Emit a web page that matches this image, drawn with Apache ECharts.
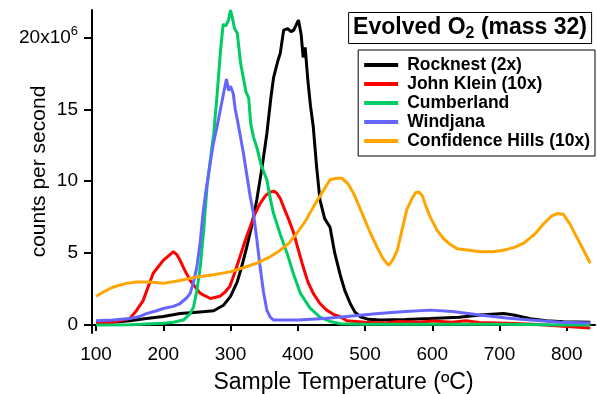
<!DOCTYPE html>
<html>
<head>
<meta charset="utf-8">
<script src="https://cdn.jsdelivr.net/npm/echarts@6/dist/echarts.min.js"></script>
<style>
  html, body { margin: 0; padding: 0; background: #fff; }
  #chart { width: 597px; height: 394px; }
</style>
</head>
<body>
<div id="chart"></div>
<script>
// temperature (ºC), counts per second (x10^6)
const rocknest = [
  [100, 0.15], [125, 0.2], [150, 0.3], [175, 0.45], [200, 0.6], [225, 0.8], [250, 0.9], [275, 1.0],
  [290, 1.4], [300, 2.0], [310, 3.0], [318, 4.3], [324, 5.4], [332, 7.0], [339, 8.7], [347, 11.0],
  [354, 13.3], [360, 15.8], [364, 17.2], [370, 18.3], [374, 18.9], [379, 20.5], [385, 20.6], [390, 20.4],
  [394, 20.5], [398, 20.9], [401, 21.2], [405, 20.2], [408, 18.6], [411, 19.3], [415, 17.0], [419, 15.2],
  [423, 13.8], [428, 11.0], [433, 8.7], [440, 7.4], [448, 6.8], [455, 5.0], [463, 3.5], [470, 2.4],
  [478, 1.5], [485, 0.9], [493, 0.58], [505, 0.4], [522, 0.35], [560, 0.38], [597, 0.45], [640, 0.55],
  [671, 0.7], [706, 0.8], [721, 0.7], [746, 0.45], [770, 0.3], [795, 0.23], [835, 0.2]
];
const johnKlein = [
  [100, 0.1], [125, 0.2], [150, 0.45], [160, 1.0], [170, 1.7], [185, 3.6], [200, 4.5], [210, 4.9],
  [215, 5.1], [220, 4.9], [225, 4.5], [232, 3.8], [240, 3.1], [255, 2.2], [270, 1.85], [284, 2.0],
  [292, 2.3], [299, 2.7], [306, 3.6], [314, 4.75], [322, 5.9], [329, 6.8], [336, 7.7], [344, 8.45],
  [352, 9.0], [359, 9.25], [365, 9.3], [369, 9.15], [374, 8.8], [379, 8.2], [386, 7.4], [394, 6.4],
  [401, 5.2], [408, 4.05], [415, 3.0], [423, 2.2], [433, 1.5], [443, 1.04], [453, 0.75], [463, 0.58],
  [473, 0.3], [500, 0.2], [530, 0.15], [550, 0.25], [580, 0.2], [600, 0.28], [630, 0.2], [650, 0.3],
  [670, 0.18], [700, 0.15], [750, 0.05], [800, -0.1], [835, -0.2]
];
const cumberland = [
  [100, 0.0], [150, 0.02], [200, 0.13], [215, 0.2], [230, 0.35], [240, 0.8], [245, 1.27], [250, 2.4],
  [255, 4.05], [260, 6.5], [265, 9.6], [270, 11.5], [275, 13.3], [280, 16.0], [285, 19.0], [289, 20.9],
  [293, 20.8], [297, 21.2], [300, 21.9], [303, 21.3], [306, 20.6], [310, 20.3], [315, 18.2], [319, 17.2],
  [323, 16.2], [327, 15.8], [330, 14.0], [334, 13.1], [340, 12.2], [345, 11.2], [354, 10.1], [360, 8.6],
  [364, 7.75], [374, 6.3], [384, 5.0], [394, 3.5], [404, 2.2], [418, 1.2], [433, 0.56], [448, 0.25],
  [463, 0.1], [500, 0.05], [600, 0.05], [700, 0.05], [800, 0.0], [835, 0.0]
];
const windjana = [
  [100, 0.3], [125, 0.35], [150, 0.45], [165, 0.6], [175, 0.8], [190, 1.0], [200, 1.15], [215, 1.3],
  [225, 1.5], [235, 1.9], [240, 2.2], [245, 3.0], [250, 4.05], [255, 5.8], [259, 7.75], [264, 9.5],
  [269, 11.0], [274, 12.5], [280, 13.8], [285, 15.0], [290, 16.2], [294, 17.1], [297, 16.3], [300, 16.6],
  [304, 16.1], [307, 15.0], [310, 14.3], [314, 13.3], [319, 12.0], [324, 10.5], [329, 9.0], [334, 7.8],
  [339, 6.0], [344, 4.05], [349, 2.3], [354, 1.04], [359, 0.55], [364, 0.35], [400, 0.35], [440, 0.45],
  [473, 0.6], [520, 0.8], [560, 0.95], [597, 1.04], [630, 0.95], [671, 0.7], [710, 0.5], [746, 0.35],
  [790, 0.2], [835, 0.15]
];
const confidenceHills = [
  [100, 2.0], [113, 2.35], [126, 2.65], [145, 2.9], [160, 3.0], [180, 3.0], [200, 2.9], [225, 3.1],
  [250, 3.35], [275, 3.5], [299, 3.7], [320, 4.0], [339, 4.3], [357, 4.7], [374, 5.2], [387, 5.7],
  [399, 6.4], [411, 7.2], [423, 8.2], [436, 9.2], [448, 10.1], [458, 10.2], [466, 10.2], [475, 9.8],
  [483, 9.15], [490, 8.4], [498, 7.5], [508, 6.4], [518, 5.4], [527, 4.6], [535, 4.15], [541, 4.5],
  [548, 5.2], [555, 6.6], [562, 8.0], [570, 8.8], [575, 9.2], [580, 9.25], [585, 9.0], [591, 8.2],
  [597, 7.5], [607, 6.6], [617, 6.0], [627, 5.6], [637, 5.3], [655, 5.2], [671, 5.1], [690, 5.1],
  [706, 5.2], [722, 5.4], [736, 5.7], [752, 6.3], [766, 7.06], [778, 7.6], [786, 7.75], [795, 7.7],
  [805, 7.0], [815, 6.1], [825, 5.2], [835, 4.3]
];

const seriesNames = ["Rocknest (2x)", "John Klein (10x)", "Cumberland", "Windjana", "Confidence Hills (10x)"];
const seriesData = [rocknest, johnKlein, cumberland, windjana, confidenceHills];
const seriesColors = ["#000000", "#ff0000", "#00cc66", "#6666ff", "#ffa500"];

const xTicks = [100, 200, 300, 400, 500, 600, 700, 800];
const yTicks = [0, 5, 10, 15, 20];

const font = "Liberation Sans, Arial, sans-serif";
const chart = echarts.init(document.getElementById("chart"));

const option = {
  animation: false,
  backgroundColor: "#fff",
  textStyle: { fontFamily: font, color: "#000" },
  title: {
    text: "{b|Evolved O}{sub|2}{b| (mass 32)}",
    right: 5,
    top: 10,
    padding: [4, 5, 2, 5],
    borderColor: "#000",
    borderWidth: 1,
    textStyle: {
      rich: {
        b: { fontFamily: font, fontWeight: "bold", fontSize: 23, color: "#000" },
        sub: { fontFamily: font, fontWeight: "bold", fontSize: 16, color: "#000", padding: [12, 0, 0, 0] }
      }
    }
  },
  legend: {
    orient: "vertical",
    right: 2,
    top: 50,
    padding: [6, 5, 6, 6],
    borderColor: "#000",
    borderWidth: 1,
    itemWidth: 34,
    itemHeight: 4,
    itemGap: 1,
    icon: "rect",
    data: seriesNames,
    textStyle: { fontFamily: font, fontWeight: "bold", fontSize: 17.5, lineHeight: 17.5, color: "#000", padding: [0, 0, 0, 4] }
  },
  grid: { left: 92, right: 2, top: 10, bottom: 61, containLabel: false, outerBoundsMode: "none" },
  xAxis: {
    type: "value",
    min: 94,
    max: 842,
    name: "Sample Temperature (ºC)",
    nameLocation: "middle",
    nameGap: 38,
    nameMoveOverlap: false,
    nameTextStyle: { fontFamily: font, fontSize: 23, color: "#000" },
    axisLine: { show: true, lineStyle: { color: "#000", width: 2 } },
    axisTick: { show: true, customValues: xTicks, length: 6, lineStyle: { color: "#000", width: 2 } },
    axisLabel: { customValues: xTicks, fontFamily: font, fontSize: 19, color: "#000", margin: 12 },
    splitLine: { show: false }
  },
  yAxis: {
    type: "value",
    min: -0.55,
    max: 21.9,
    name: "counts per second",
    nameLocation: "middle",
    nameGap: 42,
    nameMoveOverlap: false,
    nameTextStyle: { fontFamily: font, fontSize: 21, color: "#000" },
    axisLine: { show: true, lineStyle: { color: "#000", width: 2 } },
    axisTick: { show: true, customValues: yTicks, length: 8, lineStyle: { color: "#000", width: 2 } },
    axisLabel: {
      customValues: yTicks,
      margin: 14,
      fontFamily: font,
      fontSize: 19,
      color: "#000",
      formatter: function (v) {
        return v === 20 ? "{n|20x10}{s|6}" : "{n|" + v + "}";
      },
      rich: {
        n: { fontFamily: font, fontSize: 19, color: "#000" },
        s: { fontFamily: font, fontSize: 13, color: "#000", padding: [0, 0, 12, 0] }
      }
    },
    splitLine: { show: false }
  },
  series: seriesNames.map((name, i) => ({
    name: name,
    type: "line",
    data: seriesData[i],
    showSymbol: false,
    symbol: "none",
    color: seriesColors[i],
    lineStyle: { width: 3, color: seriesColors[i] },
    clip: true
  }))
};

chart.setOption(option);
</script>
</body>
</html>
